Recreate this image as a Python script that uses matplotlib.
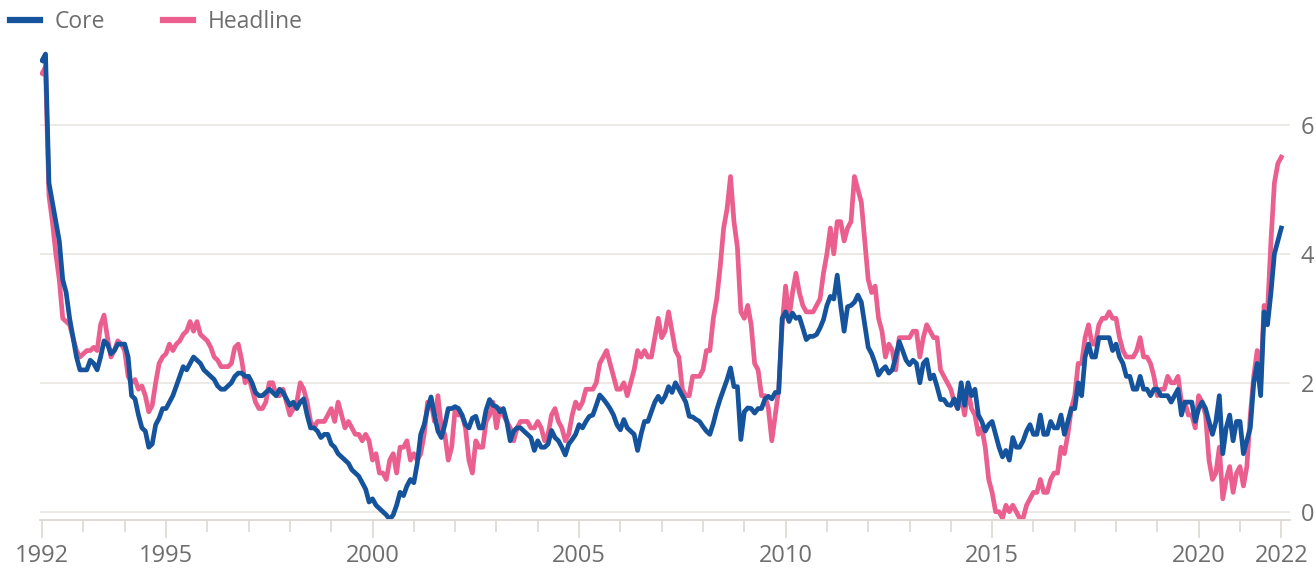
import numpy as np
import matplotlib.pyplot as plt
from matplotlib.lines import Line2D

plt.rcParams['font.family'] = ['Open Sans', 'DejaVu Sans']

# monthly values, Jan 1992 .. Jan 2022
start_year = 1992

core = [
    7.0, 7.1, 5.1, 4.8, 4.5, 4.2, 3.6, 3.4, 3.0, 2.7, 2.4, 2.2,        # 1992
    2.2, 2.2, 2.35, 2.3, 2.2, 2.4, 2.65, 2.6, 2.45, 2.5, 2.6, 2.6,     # 1993
    2.6, 2.4, 1.8, 1.75, 1.5, 1.3, 1.25, 1.0, 1.05, 1.35, 1.45, 1.6,   # 1994
    1.6, 1.7, 1.8, 1.95, 2.1, 2.25, 2.2, 2.3, 2.4, 2.35, 2.3, 2.2,     # 1995
    2.15, 2.1, 2.05, 1.95, 1.9, 1.9, 1.95, 2.0, 2.1, 2.15, 2.15, 2.1,  # 1996
    2.1, 2.0, 1.85, 1.8, 1.8, 1.85, 1.9, 1.85, 1.8, 1.9, 1.85, 1.75,   # 1997
    1.65, 1.7, 1.6, 1.7, 1.75, 1.5, 1.3, 1.3, 1.25, 1.15, 1.2, 1.2,    # 1998
    1.05, 1.0, 0.9, 0.85, 0.8, 0.75, 0.65, 0.6, 0.55, 0.45, 0.35, 0.15,  # 1999
    0.2, 0.1, 0.05, 0.0, -0.05, -0.12, -0.05, 0.1, 0.3, 0.25, 0.4, 0.5,  # 2000
    0.45, 0.75, 1.2, 1.35, 1.6, 1.78, 1.5, 1.25, 1.15, 1.35, 1.6, 1.6,   # 2001
    1.63, 1.6, 1.5, 1.35, 1.3, 1.45, 1.48, 1.3, 1.3, 1.58, 1.74, 1.65,   # 2002
    1.63, 1.55, 1.6, 1.4, 1.1, 1.25, 1.3, 1.3, 1.25, 1.2, 1.15, 0.95,    # 2003
    1.1, 1.0, 1.0, 1.05, 1.26, 1.15, 1.1, 1.0, 0.88, 1.05, 1.12, 1.2,    # 2004
    1.35, 1.3, 1.4, 1.48, 1.5, 1.65, 1.81, 1.75, 1.68, 1.6, 1.5, 1.35,   # 2005
    1.27, 1.43, 1.3, 1.25, 1.2, 0.95, 1.2, 1.4, 1.4, 1.55, 1.7, 1.79,    # 2006
    1.7, 1.79, 1.94, 1.85, 2.0, 1.9, 1.8, 1.7, 1.48, 1.47, 1.43, 1.4,    # 2007
    1.32, 1.25, 1.2, 1.37, 1.58, 1.75, 1.9, 2.05, 2.23, 1.94, 1.94, 1.12,  # 2008
    1.55, 1.61, 1.6, 1.53, 1.6, 1.6, 1.75, 1.79, 1.75, 1.85, 1.85, 3.0,  # 2009
    3.1, 2.95, 3.08, 3.0, 3.02, 2.85, 2.67, 2.72, 2.72, 2.75, 2.85, 2.98,  # 2010
    3.2, 3.34, 3.3, 3.67, 3.2, 2.8, 3.18, 3.2, 3.25, 3.36, 3.25, 2.9,    # 2011
    2.55, 2.45, 2.3, 2.12, 2.2, 2.25, 2.15, 2.2, 2.4, 2.64, 2.5, 2.35,   # 2012
    2.28, 2.35, 2.3, 2.0, 2.3, 2.36, 2.06, 2.12, 1.94, 1.74, 1.74, 1.66,  # 2013
    1.65, 1.75, 1.6, 2.0, 1.65, 2.0, 1.8, 1.9, 1.5, 1.4, 1.25, 1.35,    # 2014
    1.4, 1.2, 1.0, 0.85, 0.95, 0.8, 1.15, 1.0, 1.0, 1.1, 1.25, 1.35,    # 2015
    1.2, 1.2, 1.5, 1.2, 1.2, 1.4, 1.3, 1.3, 1.5, 1.2, 1.4, 1.6,         # 2016
    1.6, 2.0, 1.8, 2.4, 2.6, 2.4, 2.4, 2.7, 2.7, 2.7, 2.7, 2.5,         # 2017
    2.6, 2.4, 2.3, 2.1, 2.1, 1.9, 1.9, 2.1, 1.9, 1.9, 1.8, 1.9,         # 2018
    1.9, 1.8, 1.8, 1.8, 1.7, 1.8, 1.9, 1.5, 1.7, 1.7, 1.7, 1.4,         # 2019
    1.6, 1.7, 1.6, 1.4, 1.2, 1.4, 1.8, 0.9, 1.3, 1.5, 1.1, 1.4,         # 2020
    1.4, 0.9, 1.1, 1.3, 2.0, 2.3, 1.8, 3.1, 2.9, 3.4, 4.0, 4.2,         # 2021
    4.4,                                                                # 2022
]

headline = [
    6.8, 6.9, 4.9, 4.5, 4.0, 3.6, 3.0, 2.95, 2.9, 2.7, 2.5, 2.4,       # 1992
    2.45, 2.5, 2.5, 2.55, 2.5, 2.9, 3.05, 2.7, 2.4, 2.5, 2.65, 2.6,    # 1993
    2.5, 2.1, 2.0, 2.05, 1.9, 1.95, 1.8, 1.55, 1.65, 2.0, 2.3, 2.4,    # 1994
    2.45, 2.6, 2.5, 2.6, 2.65, 2.75, 2.8, 2.95, 2.8, 2.95, 2.75, 2.7,  # 1995
    2.65, 2.55, 2.4, 2.35, 2.25, 2.25, 2.25, 2.3, 2.55, 2.6, 2.35, 2.0,  # 1996
    2.1, 1.9, 1.7, 1.6, 1.6, 1.7, 2.0, 2.0, 1.8, 1.8, 1.9, 1.7,         # 1997
    1.5, 1.6, 1.7, 2.0, 1.9, 1.7, 1.4, 1.3, 1.4, 1.4, 1.4, 1.5,         # 1998
    1.6, 1.4, 1.7, 1.5, 1.3, 1.4, 1.3, 1.2, 1.2, 1.1, 1.2, 1.1,         # 1999
    0.8, 0.9, 0.6, 0.6, 0.5, 0.8, 0.9, 0.6, 1.0, 1.0, 1.1, 0.8,         # 2000
    0.9, 0.8, 0.9, 1.2, 1.7, 1.7, 1.4, 1.8, 1.3, 1.2, 0.8, 1.0,         # 2001
    1.6, 1.5, 1.5, 1.3, 0.8, 0.6, 1.1, 1.0, 1.0, 1.4, 1.5, 1.7,         # 2002
    1.3, 1.6, 1.5, 1.4, 1.3, 1.1, 1.3, 1.4, 1.4, 1.4, 1.3, 1.3,         # 2003
    1.4, 1.3, 1.1, 1.2, 1.5, 1.6, 1.4, 1.3, 1.1, 1.2, 1.5, 1.7,         # 2004
    1.6, 1.7, 1.9, 1.9, 1.9, 2.0, 2.3, 2.4, 2.5, 2.3, 2.1, 1.9,         # 2005
    1.9, 2.0, 1.8, 2.0, 2.2, 2.5, 2.4, 2.5, 2.4, 2.4, 2.7, 3.0,         # 2006
    2.7, 2.8, 3.1, 2.8, 2.5, 2.4, 1.9, 1.8, 1.8, 2.1, 2.1, 2.1,         # 2007
    2.2, 2.5, 2.5, 3.0, 3.3, 3.8, 4.4, 4.7, 5.2, 4.5, 4.1, 3.1,         # 2008
    3.0, 3.2, 2.9, 2.3, 2.2, 1.8, 1.8, 1.6, 1.1, 1.5, 1.9, 2.9,         # 2009
    3.5, 3.0, 3.4, 3.7, 3.4, 3.2, 3.1, 3.1, 3.1, 3.2, 3.3, 3.7,         # 2010
    4.0, 4.4, 4.0, 4.5, 4.5, 4.2, 4.4, 4.5, 5.2, 5.0, 4.8, 4.2,         # 2011
    3.6, 3.4, 3.5, 3.0, 2.8, 2.4, 2.6, 2.5, 2.2, 2.7, 2.7, 2.7,         # 2012
    2.7, 2.8, 2.8, 2.4, 2.7, 2.9, 2.8, 2.7, 2.7, 2.2, 2.1, 2.0,         # 2013
    1.9, 1.7, 1.6, 1.8, 1.5, 1.9, 1.6, 1.5, 1.2, 1.3, 1.0, 0.5,         # 2014
    0.3, 0.0, 0.0, -0.1, 0.1, 0.0, 0.1, 0.0, -0.1, -0.1, 0.1, 0.2,      # 2015
    0.3, 0.3, 0.5, 0.3, 0.3, 0.5, 0.6, 0.6, 1.0, 0.9, 1.2, 1.6,         # 2016
    1.8, 2.3, 2.3, 2.7, 2.9, 2.6, 2.6, 2.9, 3.0, 3.0, 3.1, 3.0,         # 2017
    3.0, 2.7, 2.5, 2.4, 2.4, 2.4, 2.5, 2.7, 2.4, 2.4, 2.3, 2.1,         # 2018
    1.8, 1.9, 1.9, 2.1, 2.0, 2.0, 2.1, 1.7, 1.7, 1.5, 1.5, 1.3,         # 2019
    1.8, 1.7, 1.5, 0.8, 0.5, 0.6, 1.0, 0.2, 0.5, 0.7, 0.3, 0.6,         # 2020
    0.7, 0.4, 0.7, 1.5, 2.1, 2.5, 2.0, 3.2, 3.1, 4.2, 5.1, 5.4,         # 2021
    5.5,                                                                # 2022
]

major_years = [1992, 1995, 2000, 2005, 2010, 2015, 2020, 2022]
y_ticks = [0, 2, 4, 6]

core_color = '#15549c'
headline_color = '#ea5f8e'
text_color = '#6e6e6e'
grid_color = '#ece8e3'

t = start_year + np.arange(len(core)) / 12

fig = plt.figure(figsize=(13.16, 5.69), dpi=100)
ax = fig.add_axes([0.0304, 0.0861, 0.9495, 0.8436])

ax.plot(t, headline, color=headline_color, lw=3.4, solid_joinstyle='round')
ax.plot(t, core, color=core_color, lw=3.4, solid_joinstyle='round')

ax.set_xlim(1991.95, 2022.2)
ax.set_ylim(-0.129, 7.318)

ax.set_xticks(major_years)
ax.set_xticklabels([str(y) for y in major_years])
ax.set_xticks(range(1992, 2023), minor=True)
ax.tick_params(axis='x', which='major', length=13, width=1.2, color='#ddd8d2',
               labelsize=17, labelcolor=text_color, pad=4)
ax.tick_params(axis='x', which='minor', length=8.5, width=1.2, color='#ddd8d2')

ax.yaxis.tick_right()
ax.set_yticks(y_ticks)
ax.tick_params(axis='y', length=0, labelsize=17, labelcolor=text_color, pad=8)
for y in y_ticks:
    ax.axhline(y, color=grid_color, lw=1.3, zorder=0)

for s in ['top', 'left', 'right']:
    ax.spines[s].set_visible(False)
ax.spines['bottom'].set_color('#ddd8d2')
ax.spines['bottom'].set_linewidth(1.3)

handles = [Line2D([], [], color=core_color, lw=4.5),
           Line2D([], [], color=headline_color, lw=4.5)]
fig.legend(handles, ['Core', 'Headline'], loc='center left',
           bbox_to_anchor=(0.0, 0.961), ncol=2, frameon=False,
           fontsize=16.5, labelcolor=text_color, handlelength=1.3,
           handletextpad=0.65, columnspacing=2.5, borderpad=0.0,
           borderaxespad=0.45)

fig.savefig('out.png', dpi=100)
